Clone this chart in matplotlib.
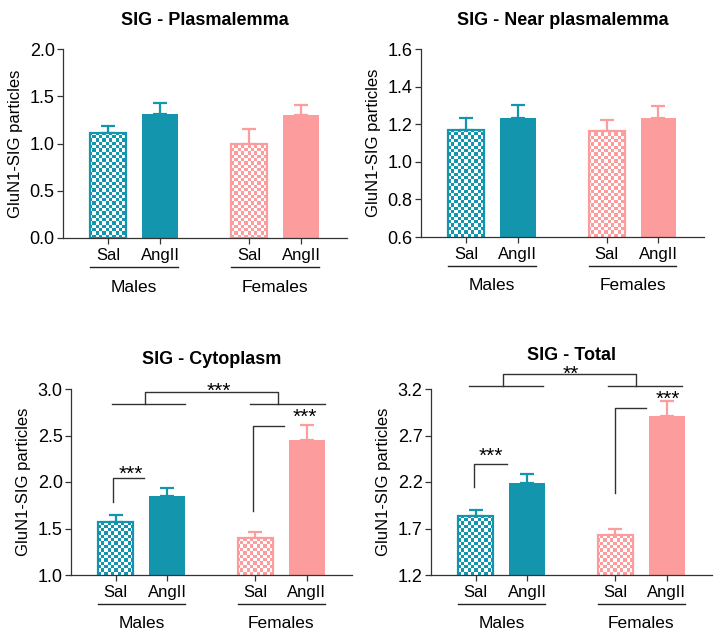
import numpy as np
import matplotlib
matplotlib.use('Agg')
import matplotlib.pyplot as plt
from matplotlib import transforms
from matplotlib.colors import ListedColormap

plt.rcParams['font.family'] = ['Liberation Sans', 'DejaVu Sans']

# data
groups = ['Males', 'Females']
treatments = ['Sal', 'AngII', 'Sal', 'AngII']
titles = ['SIG - Plasmalemma', 'SIG - Near plasmalemma', 'SIG - Cytoplasm', 'SIG - Total']

plasma_mean = [1.11, 1.31, 1.00, 1.30]
plasma_sem = [0.07, 0.12, 0.15, 0.11]
near_mean = [1.17, 1.235, 1.165, 1.235]
near_sem = [0.065, 0.067, 0.06, 0.062]
cyto_mean = [1.575, 1.85, 1.40, 2.45]
cyto_sem = [0.07, 0.09, 0.06, 0.16]
total_mean = [1.83, 2.19, 1.63, 2.91]
total_sem = [0.07, 0.10, 0.06, 0.16]

yticks = [np.arange(0, 2.01, 0.5), np.arange(0.6, 1.61, 0.2),
          np.arange(1.0, 3.01, 0.5), np.arange(1.2, 3.21, 0.5)]

TEAL = '#1495ae'
PINK = '#fd9c9c'
colors = [TEAL, TEAL, PINK, PINK]
xpos = np.array([0, 1, 2.72, 3.72])
width = 0.69

fig = plt.figure(figsize=(7.21, 6.4), dpi=100)
W, H = 721, 640
boxes = [(63, 49, 347, 238), (421, 49, 704, 237), (71, 389, 352, 575), (431, 389, 712, 575)]
title_pads = [17, 17, 18, 21]


def checker_fill(ax, bar, color):
    pos = ax.get_position()
    nx = int(pos.width * W / 3.3)
    ny = int(pos.height * H / 3.3)
    pattern = np.add.outer(np.arange(ny), np.arange(nx)) % 2
    im = ax.imshow(pattern, cmap=ListedColormap(['white', color]), extent=(0, 1, 0, 1),
                   transform=ax.transAxes, interpolation='nearest', aspect='auto', zorder=2.1)
    im.set_clip_path(bar)


def draw_panel(ax, means, sems, ticks, title, pad):
    for i in range(4):
        c = colors[i]
        if i % 2 == 0:
            b = ax.bar(xpos[i], means[i], width, color='white', edgecolor=c, linewidth=0, zorder=2)[0]
            checker_fill(ax, b, c)
            ax.bar(xpos[i], means[i], width, fill=False, edgecolor=c, linewidth=1.6, zorder=2.2)
        else:
            ax.bar(xpos[i], means[i], width, color=c, zorder=2)
        ax.errorbar(xpos[i], means[i], yerr=[[0], [sems[i]]], fmt='none', ecolor=c,
                    elinewidth=1.6, capsize=5, capthick=1.6, zorder=1.5)
    ax.set_xlim(-0.87, 4.6)
    ax.set_ylim(ticks[0], ticks[-1])
    ax.set_yticks(ticks)
    ax.set_yticklabels([f'{t:.1f}' for t in ticks], fontsize=13)
    ax.set_xticks(xpos)
    ax.set_xticklabels(treatments, fontsize=12)
    for s in ['top', 'right']:
        ax.spines[s].set_visible(False)
    for s in ['left', 'bottom']:
        ax.spines[s].set_color('#333333')
        ax.spines[s].set_linewidth(0.9)
    ax.tick_params(axis='y', length=4, width=0.9, color='#333333', pad=2)
    ax.tick_params(axis='x', length=4, width=0.9, color='#333333', pad=3)
    ax.set_ylabel('GluN1-SIG particles', fontsize=12, labelpad=5)
    ax.set_title(title, fontsize=13, fontweight='bold', pad=pad)

    # group lines and labels under the axis
    base = transforms.blended_transform_factory(ax.transData, ax.transAxes)
    line_tr = base + transforms.ScaledTranslation(0, -29 / 100, fig.dpi_scale_trans)
    for g, (a, b) in enumerate([(0, 1), (2, 3)]):
        x0, x1 = xpos[a] - width / 2, xpos[b] + width / 2
        ax.plot([x0, x1], [0, 0], color='#222222', lw=1.0, transform=line_tr, clip_on=False)
        ax.annotate(groups[g], xy=((x0 + x1) / 2, 0), xycoords=base, xytext=(0, -49 * 0.72),
                    textcoords='offset points', ha='center', va='center', fontsize=12.5)


def bracket(ax, pts, star, sx, sy, fs=15):
    xs, ys = zip(*pts)
    ax.plot(xs, ys, color='#333333', lw=1.0, clip_on=False, zorder=3)
    # asterisks sit high in the text box, so push the box down a little
    ax.annotate(star, xy=(sx, sy), xytext=(0, -4), textcoords='offset points',
                ha='center', va='center', fontsize=fs, annotation_clip=False)


panels = [(plasma_mean, plasma_sem), (near_mean, near_sem), (cyto_mean, cyto_sem), (total_mean, total_sem)]
axes = []
for k, (l, t, r, b) in enumerate(boxes):
    ax = fig.add_axes([l / W, (H - b) / H, (r - l) / W, (b - t) / H])
    draw_panel(ax, panels[k][0], panels[k][1], yticks[k], titles[k], title_pads[k])
    axes.append(ax)

# significance marks, cytoplasm
ax = axes[2]
ax.plot([-0.08, 1.345], [2.835, 2.835], color='#333333', lw=1.0, clip_on=False)
ax.plot([2.62, 4.07], [2.835, 2.835], color='#333333', lw=1.0, clip_on=False)
bracket(ax, [(0.58, 2.835), (0.58, 2.965), (3.16, 2.965), (3.16, 2.835)], '***', 2.0, 3.03)
bracket(ax, [(-0.05, 1.79), (-0.05, 2.04), (0.56, 2.04)], '***', 0.29, 2.14)
bracket(ax, [(2.675, 1.69), (2.675, 2.60), (3.27, 2.60)], '***', 3.69, 2.76)

# significance marks, total
ax = axes[3]
ax.plot([-0.14, 1.31], [3.23, 3.23], color='#333333', lw=1.0, clip_on=False)
ax.plot([2.57, 4.01], [3.23, 3.23], color='#333333', lw=1.0, clip_on=False)
bracket(ax, [(0.54, 3.23), (0.54, 3.36), (3.12, 3.36), (3.12, 3.23)], '**', 1.85, 3.42)
bracket(ax, [(-0.03, 2.15), (-0.03, 2.39), (0.6, 2.39)], '***', 0.29, 2.54)
bracket(ax, [(2.72, 2.08), (2.72, 3.0), (3.31, 3.0)], '***', 3.74, 3.15)

fig.savefig('out.png', dpi=100)
